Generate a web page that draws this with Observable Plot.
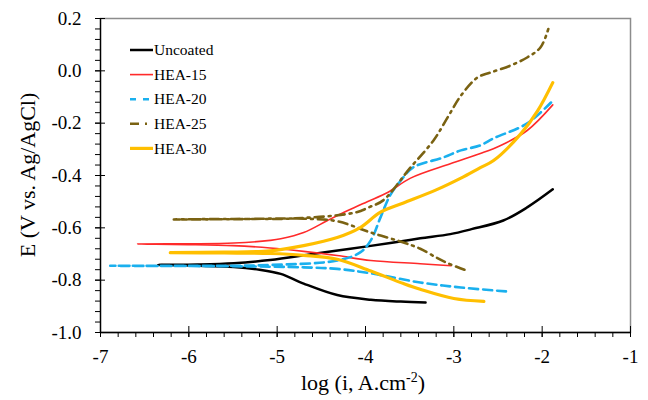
<!DOCTYPE html>
<html><head><meta charset="utf-8">
<script src="https://cdn.jsdelivr.net/npm/d3@7"></script>
<script src="https://cdn.jsdelivr.net/npm/@observablehq/plot@0.6"></script>
<style>body{margin:0;background:#fff}</style>
</head><body><div id="chart"></div>
<script>
// Series names (legend order)
const seriesNames = ["Uncoated", "HEA-15", "HEA-20", "HEA-25", "HEA-30"];
const seriesColors = ["#000000", "#ff2a2a", "#1ab0ee", "#7a6212", "#ffbf00"];

// Each curve: cathodic end -> corrosion tip -> anodic end (log i, E)
const uncoatedLogI = [-3.32,-3.6,-3.94,-4.32,-4.70,-4.96,-5.2,-5.49,-5.9,-6.35,-5.9,-5.49,-5.08,-4.6,-4.17,-3.7,-3.38,-3.04,-2.8,-2.44,-2.17,-1.88];
const uncoatedE    = [-0.885,-0.882,-0.875,-0.857,-0.813,-0.776,-0.760,-0.750,-0.745,-0.742,-0.740,-0.735,-0.723,-0.700,-0.680,-0.657,-0.640,-0.624,-0.605,-0.572,-0.522,-0.453];

const hea15LogI = [-3.03,-3.38,-3.94,-4.32,-4.7,-5.08,-5.5,-6.0,-6.58,-6.0,-5.49,-5.08,-4.96,-4.70,-4.43,-4.20,-3.98,-3.75,-3.49,-3.04,-2.70,-2.47,-2.17,-1.88];
const hea15E    = [-0.745,-0.737,-0.725,-0.706,-0.690,-0.677,-0.668,-0.664,-0.662,-0.661,-0.658,-0.648,-0.642,-0.618,-0.572,-0.534,-0.500,-0.465,-0.410,-0.355,-0.316,-0.285,-0.228,-0.130];

const hea20LogI = [-2.41,-2.92,-3.38,-3.94,-4.32,-4.7,-5.5,-6.89,-5.5,-5.08,-4.32,-4.06,-3.94,-3.83,-3.72,-3.60,-3.46,-3.12,-2.92,-2.70,-2.55,-2.17,-1.90];
const hea20E    = [-0.843,-0.828,-0.809,-0.774,-0.757,-0.751,-0.747,-0.745,-0.745,-0.742,-0.725,-0.694,-0.648,-0.560,-0.475,-0.419,-0.369,-0.331,-0.304,-0.285,-0.258,-0.201,-0.121];

const hea25LogI = [-2.88,-3.07,-3.18,-3.38,-3.57,-3.94,-4.32,-4.7,-5.5,-6.17,-5.5,-4.96,-4.70,-4.4,-4.1,-3.95,-3.80,-3.49,-3.23,-3.07,-2.92,-2.73,-2.58,-2.36,-2.17,-2.02,-1.93];
const hea25E    = [-0.760,-0.735,-0.717,-0.680,-0.656,-0.618,-0.575,-0.565,-0.567,-0.568,-0.566,-0.566,-0.562,-0.555,-0.540,-0.520,-0.495,-0.369,-0.266,-0.178,-0.095,-0.025,-0.006,0.020,0.051,0.089,0.160];

const hea30LogI = [-2.66,-3.0,-3.38,-3.57,-3.94,-4.32,-4.7,-5.08,-5.6,-6.21,-5.6,-5.08,-4.70,-4.32,-4.06,-3.83,-3.57,-3.2,-2.92,-2.7,-2.55,-2.24,-2.05,-1.88];
const hea30E    = [-0.881,-0.870,-0.835,-0.813,-0.765,-0.720,-0.705,-0.698,-0.696,-0.695,-0.693,-0.688,-0.668,-0.637,-0.599,-0.540,-0.505,-0.455,-0.410,-0.370,-0.343,-0.240,-0.152,-0.045];

// Axis ticks
const xMajor = [-7,-6,-5,-4,-3,-2,-1];
const yMajor = [-1.0,-0.8,-0.6,-0.4,-0.2,0.0,0.2];
const xMinor = d3.range(-7, -1.0001, 0.2).map(v => +v.toFixed(2));
const yMinor = d3.range(-1.0, 0.2001, 0.04).map(v => +v.toFixed(2));

const seriesData = [
  [uncoatedLogI, uncoatedE],
  [hea15LogI, hea15E],
  [hea20LogI, hea20E],
  [hea25LogI, hea25E],
  [hea30LogI, hea30E]
];
const rows = [];
seriesData.forEach(([xs, ys], k) => xs.forEach((x, i) => rows.push({series: seriesNames[k], order: i, logI: x, E: ys[i]})));

const styles = {
  "Uncoated": {strokeWidth: 2.5, dash: null},
  "HEA-15":   {strokeWidth: 1.6, dash: null},
  "HEA-20":   {strokeWidth: 2.6, dash: "9,5"},
  "HEA-25":   {strokeWidth: 2.6, dash: "9,5,2,5"},
  "HEA-30":   {strokeWidth: 3.2, dash: null}
};
const drawOrder = ["Uncoated", "HEA-15", "HEA-20", "HEA-25", "HEA-30"];

const FONT = "Liberation Serif";
const W = 648, H = 400, mL = 100, mR = 18, mT = 18, mB = 68;
const pw = W - mL - mR, ph = H - mT - mB;

const lineMarks = drawOrder.map(name => {
  const k = seriesNames.indexOf(name);
  return Plot.line(rows.filter(r => r.series === name), {
    x: "logI", y: "E", stroke: seriesColors[k],
    strokeWidth: styles[name].strokeWidth,
    strokeDasharray: styles[name].dash,
    curve: "catmull-rom"
  });
});

const plot = Plot.plot({
  width: W, height: H,
  marginLeft: mL, marginRight: mR, marginTop: mT, marginBottom: mB,
  style: {background: "#fff", color: "#000"},
  x: {domain: [-7, -1]},
  y: {domain: [-1.0, 0.2]},
  marks: [
    Plot.frame({stroke: "#8c8c8c", strokeWidth: 1.5}),
    Plot.ruleY([-1.0], {stroke: "#000", strokeWidth: 1.3}),
    Plot.ruleX([-7], {stroke: "#000", strokeWidth: 1.3}),
    // minor ticks (outside)
    Plot.tickX(xMinor, {x: d => d, insetTop: ph, insetBottom: -5, stroke: "#000"}),
    Plot.tickY(yMinor, {y: d => d, insetLeft: -5, insetRight: pw, stroke: "#000"}),
    // major ticks (crossing)
    Plot.tickX(xMajor, {x: d => d, insetTop: ph - 6, insetBottom: -5, stroke: "#000"}),
    Plot.tickY(yMajor, {y: d => d, insetLeft: -5, insetRight: pw - 5, stroke: "#000"}),
    Plot.axisX(xMajor, {tickSize: 0, tickPadding: 17, tickFormat: d => String(d), fontSize: 19, label: null}),
    Plot.axisY(yMajor, {tickSize: 0, tickPadding: 19, tickFormat: d => d.toFixed(1), fontSize: 19, label: null}),
    ...lineMarks
  ]
});

const svg = d3.select(plot);
// Axis titles
svg.append("text")
  .attr("transform", `translate(35,${mT + ph/2}) rotate(-90)`)
  .attr("text-anchor", "middle")
  .attr("font-size", 22)
  .attr("fill", "#000")
  .text("E (V vs. Ag/AgCl)");
const xt = svg.append("text")
  .attr("x", mL + pw/2 - 2).attr("y", 390)
  .attr("text-anchor", "middle")
  .attr("font-size", 22)
  .attr("fill", "#000");
xt.append("tspan").text("log (i, A.cm");
xt.append("tspan").attr("dy", -8).attr("font-size", 14).text("-2");
xt.append("tspan").attr("dy", 8).text(")");

// Legend inside the plot area
const lg = svg.append("g");
seriesNames.forEach((name, k) => {
  const y = 50 + k * 24.6;
  lg.append("line").attr("x1", 130).attr("x2", 153).attr("y1", y).attr("y2", y)
    .attr("stroke", seriesColors[k])
    .attr("stroke-width", styles[name].strokeWidth)
    .attr("stroke-dasharray", name === "HEA-20" ? "6,7" : name === "HEA-25" ? "9,6,2,6" : null);
  lg.append("text").attr("x", 154).attr("y", y).attr("dy", "0.34em")
    .attr("text-anchor", "start")
    .attr("font-size", 15.5).attr("fill", "#000").text(name);
});

// Force the serif face on every text node
plot.style.fontFamily = FONT;
svg.attr("font-family", FONT);
svg.selectAll("g, text, tspan").attr("font-family", FONT).style("font-family", FONT);

document.getElementById("chart").appendChild(plot);
</script>
</body></html>
